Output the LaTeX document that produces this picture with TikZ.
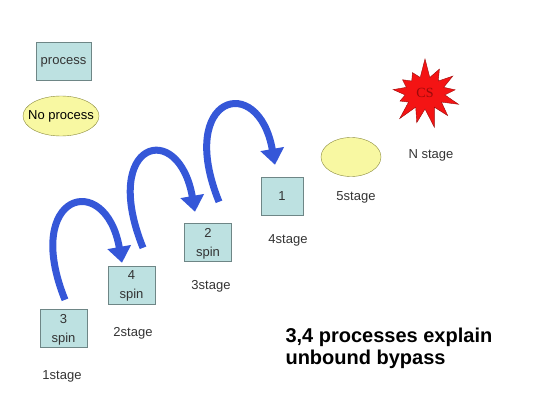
\documentclass[tikz,border=0pt]{standalone}
\usepackage{fontspec}
\setmainfont{Liberation Sans}
\newfontfamily\csfont{Liberation Serif}
\usetikzlibrary{arrows.meta,positioning,calc,shapes.geometric,shapes.symbols}

\definecolor{boxfill}{HTML}{BDE1E1}
\definecolor{boxedge}{HTML}{6E8686}
\definecolor{ovalfill}{HTML}{F8F8A2}
\definecolor{ovaledge}{HTML}{8A8A3C}
\definecolor{hopblue}{HTML}{3557D8}
\definecolor{csred}{HTML}{F41414}
\definecolor{csedge}{HTML}{9A0A0A}

\begin{document}
\begin{tikzpicture}[x=1pt, y=1pt,
box/.style={draw=boxedge, fill=boxfill, minimum width=47pt, minimum height=38pt,
              inner sep=1pt, text depth=0pt, align=center, font=\fontsize{13}{19}\selectfont, text=black!80},
oval/.style={draw=ovaledge, fill=ovalfill, ellipse, inner sep=0pt,
              font=\fontsize{13}{15}\selectfont},
lbl/.style={font=\fontsize{13}{15}\selectfont, text=black!80},
hop/.style={line width=7pt, draw=hopblue, -{Triangle[length=16pt, width=23pt]}},
]
\useasboundingbox (0,0) rectangle (540,405);

\node[box, minimum width=55pt] (proc) at (63.5,344) {process};
\node[oval, minimum width=76pt, minimum height=40pt] (noproc) at (61,289) {\makebox[0pt]{No process}};

\node[box] (s3) at (63.5,77) {3\\spin};
\node[box] (s4) at (131.5,120) {4\\spin};
\node[box] (s2) at (208,163) {2\\spin};
\node[box, minimum width=42pt] (s1) at (282,209) {1};
\node[oval, minimum width=60pt, minimum height=39pt] (s5) at (351,248) {};
\node[starburst, starburst points=13, starburst point height=20pt, random starburst=7,
      fill=csred, draw=csedge, minimum width=80pt, minimum height=72pt,
      font=\csfont\fontsize{14}{16}\selectfont, text=csedge] (cs) at (425,312) {CS};

\node[lbl] (t1) at (62,29) {1stage};
\node[lbl] (t2) at (133,72) {2stage};
\node[lbl] (t3) at (211,119) {3stage};
\node[lbl] (t4) at (288,165) {4stage};
\node[lbl] (t5) at (356,208) {5stage};
\node[lbl] (tn) at (431,250) {N stage};

\node[font=\bfseries\fontsize{20}{22}\selectfont, align=left, anchor=west] (note)
  at (282,57) {3,4 processes explain\\unbound bypass};

\draw[hop] ($(s3.north)+(1.5,9)$) .. controls +(112:115) and +(100:95) .. ($(s4.north)+(-9.5,3)$);
\draw[hop] ($(s4.north)+(11.5,18)$) .. controls +(112:115) and +(100:95) .. ($(s2.north)+(-13,11)$);
\draw[hop] ($(s2.north)+(11,21)$) .. controls +(112:115) and +(100:95) .. ($(s1.north)+(-7,12)$);
\end{tikzpicture}
\end{document}
